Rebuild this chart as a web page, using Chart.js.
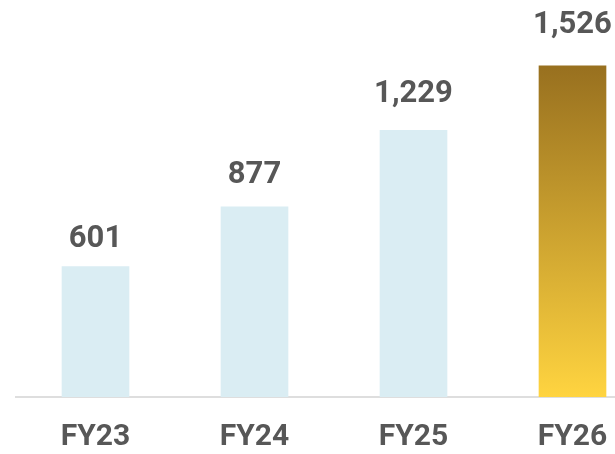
<!DOCTYPE html>
<html>
<head>
<meta charset="utf-8">
<script src="https://cdn.jsdelivr.net/npm/chart.js@4"></script>
<style>
  html, body { margin: 0; padding: 0; background: #fff; overflow: hidden; }
  #wrap { width: 680px; height: 454px; }
</style>
</head>
<body>
<div id="wrap"><canvas id="myChart" width="680" height="454"></canvas></div>
<script>
let labels = ['FY23', 'FY24', 'FY25', 'FY26'];
let values = [601, 877, 1229, 1526];
let barColor = '#daedf3';
let textColor = '#575757';

// value labels above each bar (gap grows a little with the value, as in the original)
let valueLabels = {
  id: 'valueLabels',
  afterDatasetsDraw(chart) {
    let ctx = chart.ctx;
    let y = chart.scales.y;
    ctx.save();
    ctx.font = 'bold 31px Roboto';
    ctx.fillStyle = textColor;
    ctx.textAlign = 'center';
    ctx.textBaseline = 'alphabetic';
    chart.getDatasetMeta(0).data.forEach((bar, i) => {
      let ty = y.getPixelForValue(values[i] * 1.07) - 10;
      ctx.fillText(values[i].toLocaleString('en-US'), bar.x, ty);
    });
    ctx.restore();
  }
};

let ctx = document.getElementById('myChart').getContext('2d');
let myChart = new Chart(ctx, {
  type: 'bar',
  data: {
    labels: labels,
    datasets: [{
      data: values,
      barThickness: 67,
      borderWidth: 0,
      backgroundColor: (context) => {
        if (context.dataIndex !== 3) return barColor;
        let area = context.chart.chartArea;
        if (!area) return '#f0c040';
        let y = context.chart.scales.y;
        let g = context.chart.ctx.createLinearGradient(0, y.getPixelForValue(values[3]), 0, y.getPixelForValue(0));
        g.addColorStop(0, '#98701f');
        g.addColorStop(1, '#ffd440');
        return g;
      }
    }]
  },
  plugins: [valueLabels],
  options: {
    responsive: false,
    animation: false,
    layout: { padding: { left: 16, right: 28, top: 0, bottom: 0 } },
    plugins: {
      legend: { display: false },
      tooltip: { enabled: false }
    },
    scales: {
      x: {
        grid: { display: false },
        border: { display: true, color: '#dedede', width: 2 },
        afterFit: (scale) => { scale.height = 57; },
        ticks: {
          color: textColor,
          padding: 14,
          font: { family: 'Roboto', weight: 'bold', size: 30 }
        }
      },
      y: {
        display: false,
        min: 0,
        max: 1830
      }
    }
  }
});
</script>
</body>
</html>
